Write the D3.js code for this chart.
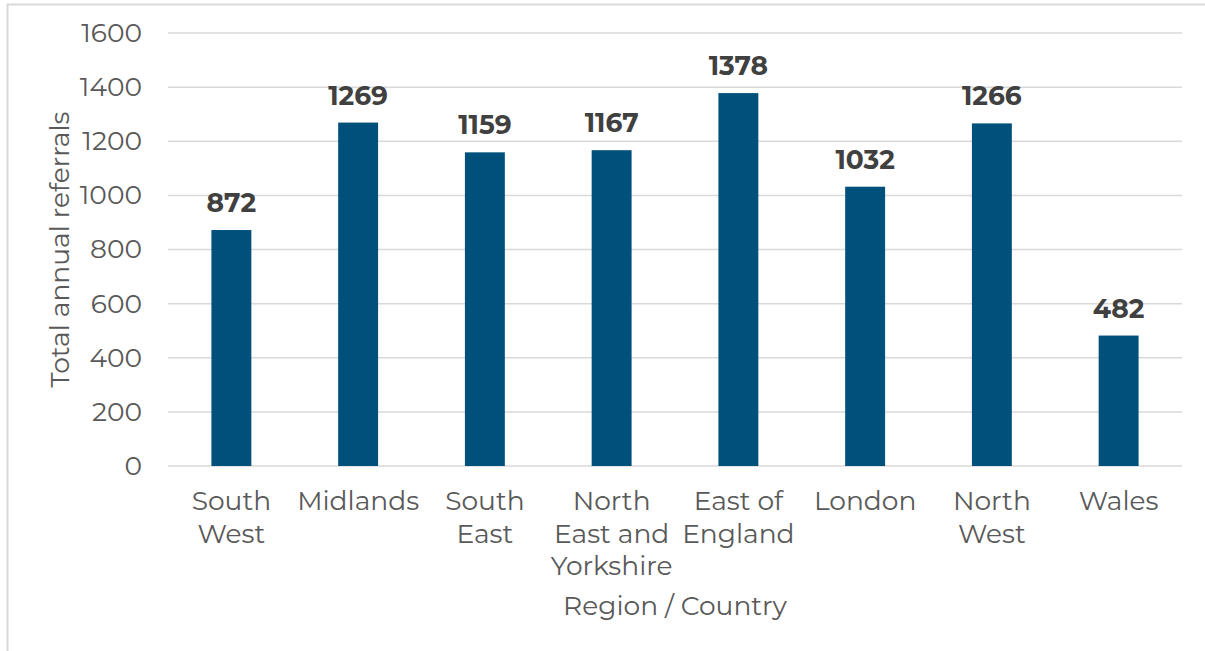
<!DOCTYPE html>
<html>
<head>
<meta charset="utf-8">
<script src="https://cdnjs.cloudflare.com/ajax/libs/d3/7.8.5/d3.min.js"></script>
<style>
  body { margin: 0; background: #fff; }
  svg { display: block; }
</style>
</head>
<body>
<div id="chart"></div>
<script>

// data
var regions = ['South West', 'Midlands', 'South East', 'North East and Yorkshire',
               'East of England', 'London', 'North West', 'Wales'];
var referrals = [872, 1269, 1159, 1167, 1378, 1032, 1266, 482];
var tickLines = [['South', 'West'], ['Midlands'], ['South', 'East'],
                 ['North', 'East and', 'Yorkshire'], ['East of', 'England'],
                 ['London'], ['North', 'West'], ['Wales']];
var yTicks = [0, 200, 400, 600, 800, 1000, 1200, 1400, 1600];

var width = 1205,
    height = 651,
    margin = {top: 33, right: 23, bottom: 185, left: 168};

var font = 'Montserrat, "DejaVu Sans", sans-serif';

var svg = d3.select('#chart').append('svg')
  .attr('width', width)
  .attr('height', height);

// outer chart frame (runs off the right/bottom edge)
svg.append('rect')
  .attr('x', 7.5).attr('y', 4.5)
  .attr('width', 1400).attr('height', 800)
  .attr('fill', 'none')
  .attr('stroke', '#d9d9d9')
  .attr('stroke-width', 2);

var x = d3.scaleBand()
  .domain(regions)
  .range([margin.left, width - margin.right])
  .paddingInner(0.685)
  .paddingOuter(0.3425);

var y = d3.scaleLinear()
  .domain([0, 1600])
  .range([height - margin.bottom, margin.top]);

// gridlines
svg.append('g')
  .selectAll('line')
  .data(yTicks)
  .enter().append('line')
  .attr('x1', margin.left)
  .attr('x2', width - margin.right)
  .attr('y1', function(d) { return y(d); })
  .attr('y2', function(d) { return y(d); })
  .attr('stroke', '#d9d9d9')
  .attr('stroke-width', 1.5);

// y axis
var yAxis = svg.append('g')
  .attr('transform', 'translate(' + margin.left + ',0)')
  .call(d3.axisLeft(y).tickValues(yTicks).tickFormat(d3.format('d')).tickSize(0).tickPadding(26));
yAxis.select('.domain').remove();
yAxis.selectAll('text')
  .attr('fill', '#595959')
  .style('font-family', font)
  .style('font-size', '26.5px');

// bars
svg.append('g')
  .selectAll('rect')
  .data(referrals)
  .enter().append('rect')
  .attr('x', function(d, i) { return x(regions[i]); })
  .attr('y', function(d) { return y(d); })
  .attr('width', x.bandwidth())
  .attr('height', function(d) { return y(0) - y(d); })
  .attr('fill', '#00507c');

// value labels
svg.append('g')
  .selectAll('text')
  .data(referrals)
  .enter().append('text')
  .attr('x', function(d, i) { return x(regions[i]) + x.bandwidth() / 2; })
  .attr('y', function(d) { return y(d) - 18; })
  .attr('text-anchor', 'middle')
  .attr('fill', '#404040')
  .style('font-family', font)
  .style('font-size', '26.5px')
  .style('font-weight', 'bold')
  .text(function(d) { return d; });

// x tick labels (wrapped)
var xLabels = svg.append('g')
  .selectAll('text')
  .data(regions)
  .enter().append('text')
  .attr('x', function(d) { return x(d) + x.bandwidth() / 2; })
  .attr('y', y(0) + 44)
  .attr('text-anchor', 'middle')
  .attr('fill', '#595959')
  .style('font-family', font)
  .style('font-size', '26.5px');

xLabels.each(function(d, i) {
  var t = d3.select(this);
  tickLines[i].forEach(function(line, j) {
    t.append('tspan')
      .attr('x', x(d) + x.bandwidth() / 2)
      .attr('dy', j === 0 ? 0 : 32.5)
      .text(line);
  });
});

// axis titles
svg.append('text')
  .attr('x', (margin.left + width - margin.right) / 2)
  .attr('y', 615)
  .attr('text-anchor', 'middle')
  .attr('fill', '#595959')
  .style('font-family', font)
  .style('font-size', '26.5px')
  .text('Region / Country');

svg.append('text')
  .attr('transform', 'translate(69,' + (y(800)) + ') rotate(-90)')
  .attr('text-anchor', 'middle')
  .attr('fill', '#595959')
  .style('font-family', font)
  .style('font-size', '26.5px')
  .text('Total annual referrals');

</script>
</body>
</html>
